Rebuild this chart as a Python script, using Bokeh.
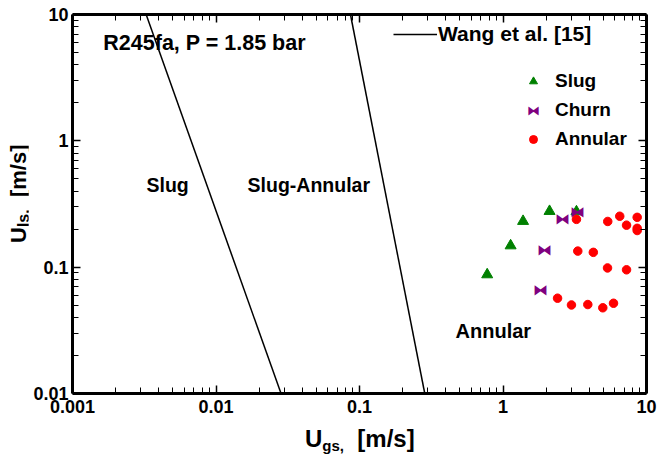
from bokeh.plotting import figure
from bokeh.models import (Legend, LegendItem, Label, FixedTicker, Div,
                          CustomJSTickFormatter, LogAxis, ColumnDataSource)
from bokeh.layouts import row, column
from bokeh.embed import file_html
from bokeh.resources import INLINE

# ---------------- data ----------------
slug_ugs = [0.776, 1.13, 1.38, 2.11, 3.25]
slug_uls = [0.0873, 0.148, 0.231, 0.277, 0.275]

churn_ugs = [1.83, 1.95, 2.61, 3.29]
churn_uls = [0.066, 0.137, 0.244, 0.275]

annular_ugs = [3.25, 5.37, 6.51, 7.26, 8.61, 8.61, 8.61, 3.32, 4.26, 5.35,
               7.26, 2.40, 3.00, 3.90, 4.96, 5.89]
annular_uls = [0.239, 0.230, 0.253, 0.215, 0.248, 0.203, 0.195, 0.134, 0.131,
               0.0986, 0.0953, 0.0568, 0.0502, 0.0506, 0.0477, 0.0518]

wang_slug_ugs = [0.00326, 0.0284]
wang_slug_uls = [10.0, 0.01]
wang_sa_ugs = [0.0865, 0.285]
wang_sa_uls = [10.0, 0.01]

x_ticks = [0.001, 0.01, 0.1, 1, 10]
y_ticks = [0.01, 0.1, 1, 10]

FONT = "Liberation Sans"

p = figure(width=632, height=425, x_axis_type="log", y_axis_type="log",
           x_range=(0.001, 10), y_range=(0.01, 10),
           output_backend="svg", toolbar_location=None,
           min_border_left=44, min_border_right=14,
           min_border_top=14, min_border_bottom=32)
p.grid.visible = False
p.outline_line_color = None
p.background_fill_color = "white"
p.border_fill_color = "white"

x_minor = [m * 10.0 ** e for e in range(-3, 1) for m in range(2, 10)]
y_minor = [m * 10.0 ** e for e in range(-2, 1) for m in range(2, 10)]
fmt = CustomJSTickFormatter(code="return String(tick);")
blank = CustomJSTickFormatter(code="return ' ';")


def style_axis(ax, ticks, minor, labels=True, standoff=4):
    ax.ticker = FixedTicker(ticks=ticks, minor_ticks=minor)
    ax.axis_line_width = 3
    ax.axis_line_color = "black"
    ax.major_tick_in = 8
    ax.major_tick_out = 0
    ax.minor_tick_in = 6
    ax.minor_tick_out = 0
    ax.major_tick_line_width = 1.5
    ax.minor_tick_line_width = 1
    ax.major_tick_line_color = "black"
    ax.minor_tick_line_color = "black"
    ax.axis_label = None
    if labels:
        ax.formatter = fmt
        ax.major_label_text_font = FONT
        ax.major_label_text_font_style = "bold"
        ax.major_label_text_font_size = "18px"
        ax.major_label_text_color = "black"
        ax.major_label_standoff = standoff
    else:
        ax.formatter = blank
        ax.major_label_text_font_size = "2px"
        ax.major_label_text_alpha = 0
        ax.major_label_standoff = 0


style_axis(p.xaxis[0], x_ticks, x_minor, True, 6)
style_axis(p.yaxis[0], y_ticks, y_minor, True, 4)
top = LogAxis()
right = LogAxis()
style_axis(top, x_ticks, x_minor, False)
style_axis(right, y_ticks, y_minor, False)
p.add_layout(top, "above")
p.add_layout(right, "right")

# ---------------- boundaries ----------------
r_wang = p.line(wang_slug_ugs, wang_slug_uls, line_color="black", line_width=1.5)
p.line(wang_sa_ugs, wang_sa_uls, line_color="black", line_width=1.5)

# ---------------- data points ----------------
r_slug = p.scatter(slug_ugs, slug_uls, marker="triangle", size=11,
                   fill_color="green", line_color="green")
src_churn = ColumnDataSource(dict(x=churn_ugs, y=churn_uls,
                                  t=["\u29d3"] * len(churn_ugs)))
r_churn = p.text(x="x", y="y", text="t", source=src_churn, text_color="purple",
                 text_align="center", text_baseline="middle",
                 text_font_size="15px")
r_ann = p.scatter(annular_ugs, annular_uls, marker="circle", size=8.5,
                  fill_color="red", line_color="red")

# ---------------- legends ----------------
leg_common = dict(border_line_color=None, background_fill_alpha=0,
                  label_text_font=FONT, label_text_font_style="bold",
                  label_text_color="black", padding=0, margin=0)
leg1 = Legend(items=[LegendItem(label="Wang et al. [15]", renderers=[r_wang])],
              location=(321, 347), glyph_width=44, glyph_height=24,
              label_height=24, label_standoff=1, label_text_font_size="21px",
              **leg_common)
leg2 = Legend(items=[LegendItem(label="Slug", renderers=[r_slug]),
                     LegendItem(label="Churn", renderers=[]),
                     LegendItem(label="Annular", renderers=[r_ann])],
              location=(451, 242), glyph_width=20, glyph_height=24,
              label_height=24, label_standoff=12, spacing=5,
              label_text_font_size="19px", **leg_common)
p.add_layout(leg1, "center")
p.add_layout(leg2, "center")
# bowtie symbol for the "Churn" legend entry (same glyph as the data marks)
p.add_layout(Label(x=461, y=283, x_units="screen", y_units="screen",
                   text="\u29d3", text_color="purple", text_font_size="13px",
                   text_align="center", text_baseline="middle"))

# ---------------- annotations ----------------
txt = dict(text_font=FONT, text_font_style="bold", text_color="black",
           text_baseline="middle", text_align="left")
p.add_layout(Label(x=0.00164, y=6.0, text="R245fa, P = 1.85 bar",
                   text_font_size="21.5px", **txt))
p.add_layout(Label(x=0.00328, y=0.451, text="Slug", text_font_size="19.5px", **txt))
p.add_layout(Label(x=0.0166, y=0.451, text="Slug-Annular", text_font_size="19.5px", **txt))
p.add_layout(Label(x=0.467, y=0.0315, text="Annular", text_font_size="20px", **txt))

# ---------------- axis titles (with subscripts) ----------------
base = ("font-family:'Liberation Sans',Arial,sans-serif;font-weight:bold;"
        "color:black;white-space:nowrap;")
x_title_html = (
    '<div style="position:relative;width:632px;height:31px;">'
    '<div style="position:absolute;left:277px;top:2px;font-size:24px;'
    'line-height:24px;' + base + '">U<span style="font-size:15px;'
    'position:relative;top:4px;">gs,</span>&nbsp;&nbsp;[m/s]</div></div>')
y_title_html = (
    '<div style="position:relative;width:28px;height:456px;">'
    '<div style="position:absolute;left:8px;top:243px;font-size:22px;'
    'line-height:22px;transform-origin:0 0;transform:rotate(-90deg);'
    + base + '">U<span style="font-size:16px;position:relative;top:3px;">'
    'ls,</span>&nbsp;&nbsp;[m/s]</div></div>')

x_title = Div(text=x_title_html, width=632, height=31, margin=0,
              styles={"overflow": "visible"})
y_title = Div(text=y_title_html, width=28, height=456, margin=0,
              styles={"overflow": "visible"})

layout = row(y_title, column(p, x_title, spacing=0), spacing=0)

open("out.html", "w").write(file_html(layout, INLINE))
